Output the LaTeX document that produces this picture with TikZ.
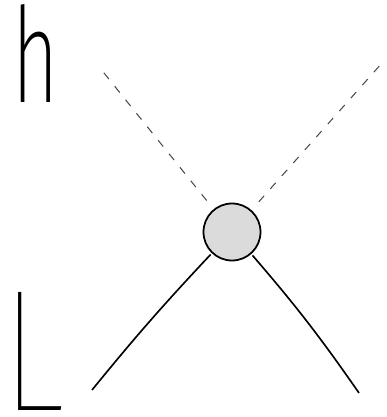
\documentclass[tikz,border=0pt]{standalone}
\usepackage{fontspec}
\newfontfamily\handfont{Fira Sans ExtraLight}
\newfontfamily\handthin{Fira Sans Thin}
\usepackage{tikz}
\usetikzlibrary{positioning}

\begin{document}
\begin{tikzpicture}[
x=0.03cm, y=-0.03cm,
letter/.style={inner sep=0pt, anchor=base west, transform shape},
vertex/.style={circle, draw=black, line width=1.5pt, fill=black!14, minimum size=1.71cm, inner sep=0pt},
ghost/.style={black!70, line width=0.9pt, dash pattern=on 0.24cm off 0.28cm, shorten <=0.33cm},
leg/.style={black, line width=1.4pt, shorten <=0.05cm}
]
\useasboundingbox (0,0) rectangle (386,417);
% labels
\node[letter, xscale=0.6, font=\handfont\fontsize{113}{113}\selectfont] (hlab) at (12,102) {h};
\node[letter, xscale=0.8, font=\handthin\fontsize{148}{148}\selectfont] (Llab) at (1,410) {L};
% vertex and its legs
\node[vertex] (v) at (232,232) {};
\coordinate (hl) at (100,68);
\coordinate (hr) at (382,63);
\coordinate (ll) at (92,390);
\coordinate (lr) at (359,393);
\draw[ghost] (v) -- (hl);
\draw[ghost] (v) -- (hr);
\draw[leg] (v) to[bend right=2] (ll);
\draw[leg] (v) to[bend left=3] (lr);
\end{tikzpicture}
\end{document}
